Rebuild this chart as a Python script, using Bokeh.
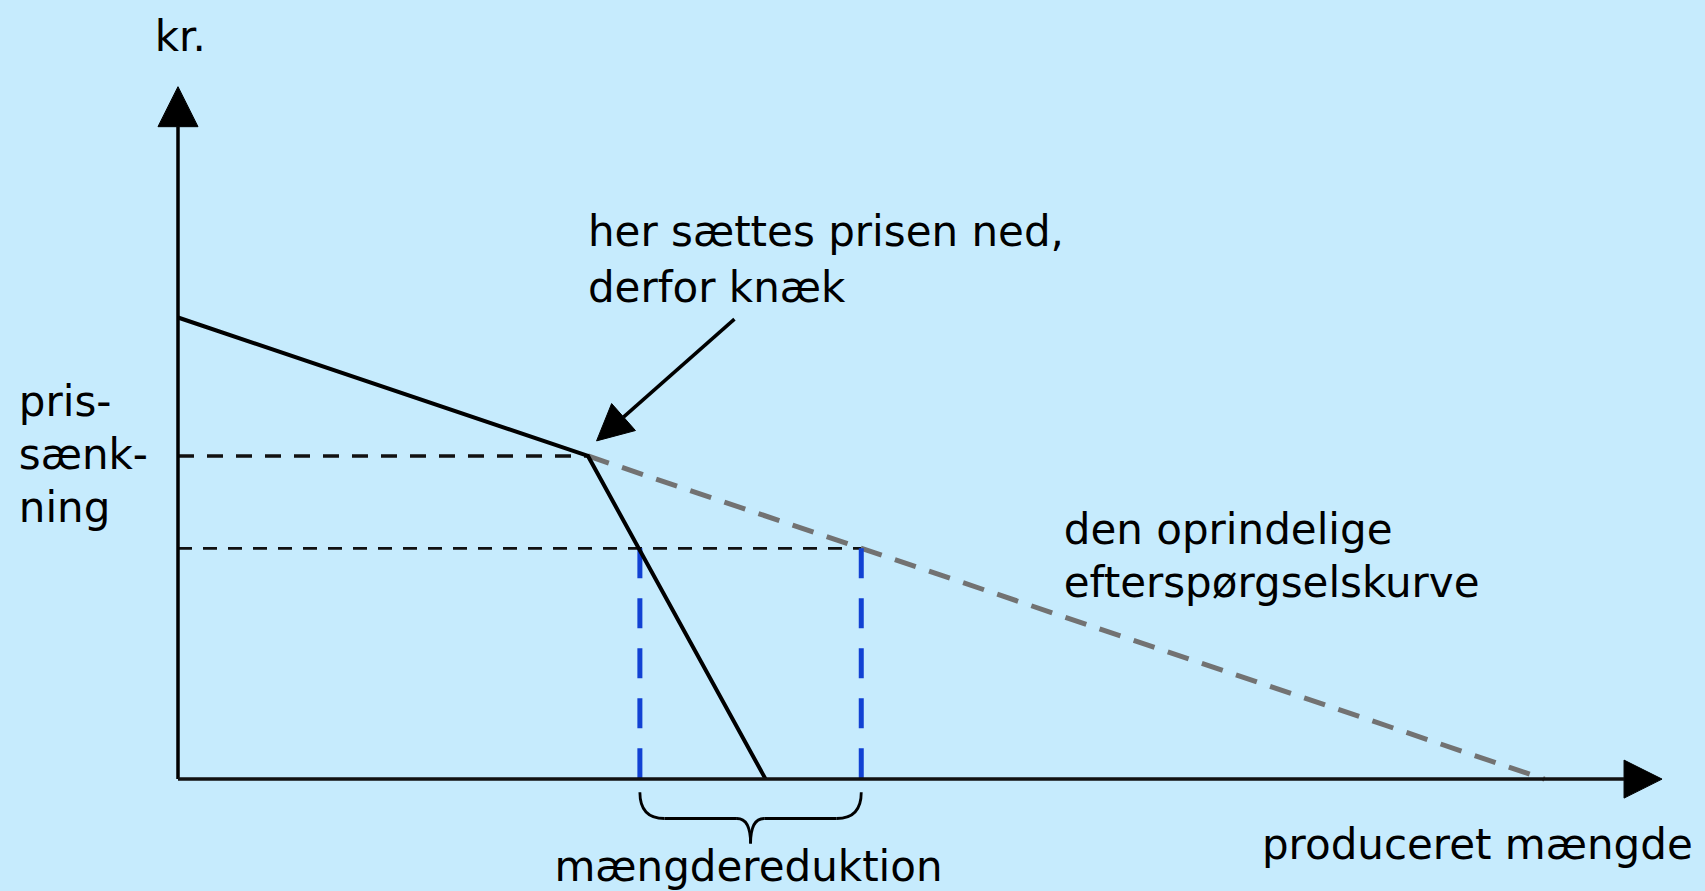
from bokeh.plotting import figure
from bokeh.models import Range1d, Arrow, NormalHead
from bokeh.core.properties import value
from bokeh.embed import file_html
from bokeh.resources import INLINE

# ---- data (quantity, price) ----
orig_q = [0, 3, 10]          # original demand curve
orig_p = [10, 7, 0]
kinked_q = [0, 3, 4.3]       # kinked demand curve
kinked_p = [10, 7, 0]
kink_q = 3
old_price = 7
new_price = 5
q_new_kinked = 3.38
q_new_orig = 5.0
axis_q_max = 10.86
axis_p_max = 15.0

# labels: text, x, y, align
labels_text = ["kr.", "her sættes prisen ned,", "derfor knæk", "pris-", "sænk-", "ning",
               "den oprindelige", "efterspørgselskurve", "produceret mængde", "mængdereduktion"]
labels_x = [-0.17, 3.0, 3.0, -1.165, -1.165, -1.165, 6.482, 6.482, 7.932, 4.175]
labels_y = [16.09, 11.87, 10.64, 8.19, 7.03, 5.88, 5.41, 4.26, -1.42, -1.90]
labels_align = ["left", "left", "left", "left", "left", "left", "left", "left", "left", "center"]

# annotation arrow (tail -> tip)
note_tail = (4.072, 9.965)
note_tip = (3.063, 7.327)

BG = "#C6EBFD"
W, H = 1705, 891

p = figure(width=W, height=H, output_backend="svg", toolbar_location=None,
           x_range=Range1d(-1.2989, 11.178), y_range=Range1d(-2.435, 16.867),
           x_axis_type=None, y_axis_type=None, min_border=0)
p.background_fill_color = BG
p.border_fill_color = BG
p.outline_line_color = None

# axes with arrow heads
p.add_layout(Arrow(x_start=0, y_start=0, x_end=0, y_end=axis_p_max,
                   line_color="black", line_width=3.5,
                   end=NormalHead(size=40, fill_color="black", line_color="black", line_width=1)))
p.add_layout(Arrow(x_start=0, y_start=0, x_end=axis_q_max, y_end=0,
                   line_color="#111111", line_width=3.5,
                   end=NormalHead(size=38, fill_color="black", line_color="black", line_width=1)))

# price guide lines
p.line([0, kink_q], [old_price, old_price], line_color="#111111", line_width=3.5, line_dash="16 13")
p.line([0, q_new_orig], [new_price, new_price], line_color="#111111", line_width=2.8, line_dash="14 11")

# original demand curve (dashed part)
p.line(orig_q[1:], orig_p[1:], line_color="#727272", line_width=5, line_dash="22 14")

# quantity guide lines
for q in [q_new_kinked, q_new_orig]:
    p.line([q, q], [new_price, 0], line_color="#1141D3", line_width=5, line_dash="30 20")

# kinked demand curve
p.line(kinked_q, kinked_p, line_color="black", line_width=4, line_join="miter")

# curly brace under the quantity reduction
qa, qb = q_new_kinked, q_new_orig
qm = (qa + qb) / 2
top, mid, tip = -0.284, -0.854, -1.395
hook, cw = 0.18, 0.1
p.quadratic(x0=[qa, qm - cw, qm, qb], y0=[top, mid, tip, top],
            x1=[qa + hook, qm, qm + cw, qb - hook], y1=[mid, tip, mid, mid],
            cx=[qa, qm, qm, qb], cy=[mid, mid, mid, mid],
            line_color="black", line_width=2.8)
p.segment(x0=[qa + hook, qm + cw], y0=[mid, mid], x1=[qm - cw, qb - hook], y1=[mid, mid],
          line_color="black", line_width=2.8)

# annotation arrow
p.add_layout(Arrow(x_start=note_tail[0], y_start=note_tail[1], x_end=note_tip[0], y_end=note_tip[1],
                   line_color="black", line_width=3.5,
                   end=NormalHead(size=36, fill_color="black", line_color="black", line_width=1)))

# texts
for t, x, y, a in zip(labels_text, labels_x, labels_y, labels_align):
    p.text(x=[x], y=[y], text=[t], text_align=a, text_baseline="alphabetic",
           text_font=value("DejaVu Sans"), text_font_size=value("42px"), text_color="black")

html = file_html(p, INLINE)
html = html.replace("<head>", "<head><style>body{background:%s;}</style>" % BG, 1)
open("out.html", "w").write(html)
